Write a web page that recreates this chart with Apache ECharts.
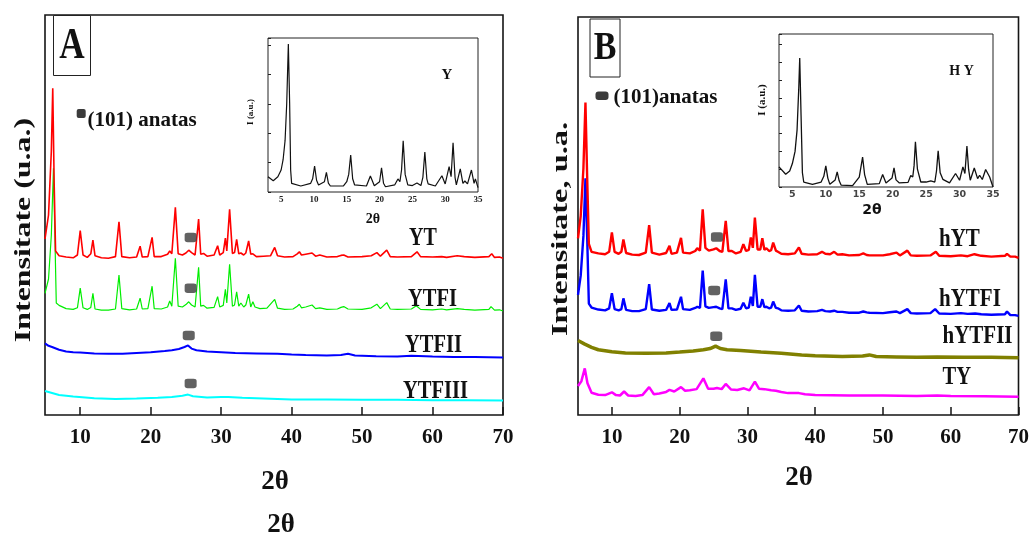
<!DOCTYPE html>
<html><head><meta charset="utf-8">
<script src="https://cdn.jsdelivr.net/npm/echarts@6/dist/echarts.min.js"></script>
<style>html,body{margin:0;padding:0;background:#fff}#c{width:1032px;height:536px}</style>
</head><body><div id="c"></div>
<script>
// ---------- tick labels ----------
const xTicksMain = [10, 20, 30, 40, 50, 60, 70];
const xTicksInset = [5, 10, 15, 20, 25, 30, 35];

// ---------- Panel A traces: [2θ, stacked intensity] ----------
const seriesYT = [[5,44],[5.5,50],[5.9,66],[6.1,81.7],[6.3,58],[6.5,41],[7,39.8],[8,39.5],[9,39.3],[9.6,40],[10,46.1],[10.4,40],[11,39.4],[11.5,40.3],[11.8,43.7],[12.1,39.8],[13,39.3],[14,39.2],[15,39.6],[15.5,48.3],[15.9,39.6],[17,39.3],[18,39.5],[18.5,42.2],[18.8,39.5],[19.6,39.6],[20.2,44.4],[20.5,39.6],[21.5,39.6],[22.4,40.2],[22.7,41],[23,40.3],[23.5,51.9],[23.9,40.3],[24.5,40],[25,40.5],[25.4,41.2],[25.8,40.6],[26.3,40],[26.8,49],[27.1,40.2],[27.5,40.4],[28,39.7],[29,40],[29.5,42.3],[29.8,40],[30.3,40.6],[30.6,44.2],[30.8,41],[31.2,51.4],[31.6,40.4],[31.9,40.6],[32.2,43.9],[32.5,40.3],[32.8,40.5],[33.2,40],[33.5,40.5],[33.9,43.5],[34.2,40.2],[34.5,40.3],[35,39.6],[36,39.7],[37,39.8],[37.6,41.9],[38,39.8],[39,39.5],[40.2,39.6],[40.8,40.3],[41.1,40.8],[41.4,40],[42,40.2],[42.9,40.5],[43.4,39.7],[44,40],[45,39.5],[46.5,39.6],[47,39.9],[47.4,40],[48,39.5],[50,39.6],[51.3,39.8],[52.1,40.6],[52.6,39.7],[53.5,41.2],[54,39.6],[55,39.5],[57,39.6],[57.8,40.8],[58.3,39.6],[60,39.5],[61.3,39.6],[62,39.4],[63.5,39.8],[64.5,39.6],[66,39.4],[68,39.6],[68.4,40.3],[68.8,39.4],[69.5,39.5],[70,39.2]];
const seriesYTFI = [[5,30.4],[5.5,34],[5.9,45],[6.2,61.7],[6.4,45],[6.6,28],[7,27.4],[8,26.6],[9,26.4],[9.6,26.8],[10,31.7],[10.4,26.8],[11,26.4],[11.5,26.9],[11.8,30.4],[12.1,26.5],[13,26.2],[14,26.2],[15,26.5],[15.5,35],[15.9,26.6],[17,26.3],[18,26.5],[18.5,29.2],[18.8,26.5],[19.6,26.6],[20.2,32.2],[20.5,26.6],[21.5,26.5],[22.4,27],[22.7,28.5],[23,27.2],[23.5,39.2],[23.9,27.2],[24.5,27],[25,27.6],[25.4,28.3],[25.8,27.5],[26.3,27],[26.8,36.9],[27.1,27.2],[27.5,27.4],[28,26.7],[29,26.9],[29.5,29.6],[29.8,27],[30.3,27.4],[30.6,31.4],[30.8,28],[31.2,37.7],[31.6,27.2],[31.9,27.5],[32.2,30.8],[32.5,27.2],[32.8,28],[33.2,27],[33.5,27.5],[33.9,30.2],[34.2,27],[34.5,28.3],[34.8,27],[35.5,26.6],[36.5,26.7],[37.6,28.9],[38,26.7],[39,26.4],[40.2,26.5],[40.8,27.2],[41.1,27.7],[41.4,26.8],[42,27],[42.9,27.5],[43.4,26.6],[44,26.8],[45,26.4],[46.5,26.5],[47,26.9],[47.4,27.1],[48,26.5],[50,26.4],[51.3,26.8],[52.1,27.7],[52.6,26.6],[53.5,28.1],[54,26.5],[55,26.4],[57,26.5],[57.7,27.3],[58.3,26.4],[60,26.3],[61.3,26.5],[62,26.3],[63.5,26.6],[64.5,26.4],[66,26.2],[68,26.4],[68.3,27.1],[68.8,26.2],[69.5,26.3],[70,26]];
const seriesYTFII = [[5,17.9],[5.5,17.3],[6,17],[7,16.3],[8,15.9],[9,15.7],[10,15.6],[12,15.4],[14,15.3],[16,15.3],[18,15.5],[20,15.7],[22,16],[23,16.2],[24,16.5],[24.8,17],[25.3,17.4],[25.8,16.6],[26.5,16.2],[28,15.9],[30,15.7],[32,15.5],[35,15.4],[38,15.3],[40,15.1],[42,15],[45,14.9],[47,15],[48,15.3],[49,14.9],[52,14.7],[55,14.6],[57,14.8],[60,14.6],[63,14.5],[66,14.5],[70,14.4]];
const seriesYTFIII = [[5,6],[6,5.5],[7,5],[9,4.6],[12,4.2],[15,4],[18,4.1],[21,4.3],[23,4.5],[24.5,4.8],[25.3,5.1],[26,4.7],[28,4.4],[30,4.5],[31,4.5],[33,4.3],[35,4.2],[40,3.9],[45,3.9],[50,3.8],[55,3.8],[60,3.7],[65,3.7],[70,3.6]];

// ---------- Panel B traces ----------
const seriesHYT = [[5,44.4],[5.4,50],[5.8,62],[6.1,78.5],[6.35,60],[6.6,43],[7,41],[8,40.6],[9,40.4],[9.6,41],[10,45.9],[10.4,41],[11,40.5],[11.4,41],[11.7,44.1],[12.1,40.7],[13,40.3],[14,40.2],[15,40.8],[15.5,47.7],[15.9,40.8],[17,40.3],[18,40.7],[18.5,42.5],[18.8,40.5],[19.6,40.8],[20.2,44.5],[20.5,40.8],[21.5,40.6],[22.3,41.2],[22.6,41.9],[23,41.3],[23.4,51.7],[23.8,42],[24.3,41.3],[25,41.6],[25.4,41.9],[25.9,41.2],[26.3,41],[26.8,48.8],[27.2,41.2],[27.7,41.2],[28.3,40.6],[29,41],[29.4,42.9],[29.8,41.2],[30.2,41.5],[30.5,44.6],[30.8,42],[31.1,49.6],[31.5,41.6],[31.9,41.6],[32.2,44.4],[32.5,41.5],[32.8,41.9],[33.2,41.2],[33.5,41.4],[33.8,43.3],[34.2,41.3],[34.5,41],[35,40.5],[36,40.4],[37,40.6],[37.6,42.1],[38,40.5],[39,40.3],[40.3,40.4],[41,41],[41.5,40.5],[42.2,40.4],[42.8,41],[43.3,40.3],[44,40.4],[45,40.1],[46.5,40.2],[47.1,40.6],[47.6,40.2],[48,40.1],[50,40.1],[51,40.4],[52,40.8],[52.5,40.1],[53.6,41.3],[54.1,40.1],[55,40],[57,40.1],[57.8,41],[58.3,40],[60,39.9],[61.5,40.1],[62.5,39.9],[63.5,40.4],[64.5,40],[66,39.8],[68,40],[68.3,40.5],[68.8,39.8],[69.5,39.8],[70,39.5]];
const seriesHYTFI = [[5,30.2],[5.4,35],[5.8,45],[6.1,59.5],[6.35,45],[6.6,28],[7,27],[8,26.5],[9,26.3],[9.6,26.8],[10,30.6],[10.4,26.6],[11,26.3],[11.4,26.6],[11.7,29.3],[12.1,26.4],[13,26.1],[14,26.1],[15,26.6],[15.5,32.9],[15.9,26.5],[17,26.2],[18,26.4],[18.5,28.1],[18.8,26.4],[19.6,26.5],[20.2,29.7],[20.5,26.6],[21.5,26.4],[22.3,26.9],[22.6,27.2],[23,26.9],[23.4,36.3],[23.8,27.3],[24.3,26.9],[25,27.1],[25.4,27.2],[25.9,26.8],[26.3,26.6],[26.8,34.1],[27.2,26.8],[27.7,26.8],[28.3,26.4],[29,26.7],[29.4,28.2],[29.8,26.8],[30.2,27],[30.5,29.7],[30.8,27.4],[31.1,35.2],[31.5,27.2],[31.9,27.2],[32.2,29.1],[32.5,27.1],[32.8,27.2],[33.2,26.8],[33.5,27],[33.8,28.5],[34.2,26.9],[34.5,26.8],[35,26.3],[36,26.2],[37,26.3],[37.6,27.5],[38,26.2],[39,26],[40.3,26.1],[41,26.4],[41.5,26.1],[42.2,26],[42.8,26.2],[43.3,25.9],[44,25.9],[45,25.7],[46.5,25.7],[47.1,26],[47.6,25.8],[48,25.7],[50,25.6],[51,25.8],[52,26],[52.5,25.6],[53.6,26.6],[54.1,25.6],[55,25.5],[57,25.6],[57.7,26.6],[58.3,25.5],[60,25.4],[61.5,25.6],[62.5,25.4],[63.6,25.5],[64.5,25.3],[66,25.2],[68,25.3],[68.3,26],[68.8,25.1],[69.5,25.1],[70,24.9]];
const seriesHYTFII = [[5,18.7],[6,17.8],[7,17],[8,16.4],[10,15.9],[12,15.6],[15,15.5],[18,15.6],[20,15.8],[22,16.1],[23.5,16.4],[24.5,16.7],[25.3,17.3],[26,16.7],[27,16.4],[29,16.2],[32,15.8],[35,15.5],[38,15.1],[40,14.9],[44,14.7],[47,14.8],[48,15.1],[49,14.7],[52,14.6],[55,14.5],[58,14.6],[62,14.5],[66,14.5],[70,14.4]];
const seriesTY = [[5,7.3],[5.5,8.5],[6,11.7],[6.4,8],[7,5.6],[8,5.1],[9,5],[10,5.7],[10.6,5],[11.2,4.9],[11.8,5.9],[12.4,4.9],[13.5,4.8],[14.5,5],[15.5,7],[16.2,5.2],[17,5.4],[18,5.8],[18.5,6.3],[19.2,5.9],[20.2,7],[20.8,6.1],[21.5,6.2],[22.5,6.5],[23.5,9.2],[24.2,6.6],[25,6.6],[25.5,6.8],[26.2,6.5],[26.8,7.8],[27.6,6.4],[28.5,6.3],[29.5,6.7],[30.3,6.2],[31.1,8.4],[31.7,6.6],[32.5,6.5],[33.5,6.2],[34.2,6.1],[35,5.8],[36,5.5],[37.6,5.5],[38.5,5.2],[40,5],[45,4.9],[50,4.9],[55,4.8],[58,4.9],[60,4.8],[65,4.7],[70,4.6]];

// ---------- insets ----------
const insetY = [[3,10.4],[3.8,7.7],[4.5,10.4],[5,15],[5.3,22],[5.6,35],[5.85,60],[6.1,100.9],[6.3,60],[6.45,15],[6.6,5.9],[8,4.1],[9.5,5.9],[9.8,9],[10.1,17.7],[10.4,8],[10.7,4.8],[11.6,7],[11.9,13.4],[12.2,6],[12.5,4.1],[14.5,4.1],[15,7],[15.3,12],[15.6,25.2],[15.9,9],[16.2,4.8],[18,4.1],[18.6,10.9],[19.2,4.3],[20,7],[20.3,16.4],[20.6,6],[20.9,3.6],[22.3,4.8],[22.8,8.9],[23.1,7],[23.35,15],[23.6,35],[23.9,12],[24.3,4.8],[25,4.4],[25.7,6.1],[26.3,4.4],[26.6,10],[26.9,27.3],[27.2,9],[27.4,5.5],[27.7,6.8],[28.5,4.1],[29.5,11.1],[30,5.5],[30.6,17.3],[30.9,10.4],[31.2,33.6],[31.5,10],[31.7,4.8],[32.3,15.7],[32.7,5.9],[33,7.5],[33.4,5.5],[34,15],[34.4,5.9],[34.6,8.9],[35,3]];
const insetHY = [[3,11.3],[4,7.2],[4.6,9],[5,13.2],[5.4,20],[5.7,32],[5.95,55],[6.1,72.5],[6.3,40],[6.5,8],[6.7,2.8],[8,1.5],[9.3,2.8],[9.7,6],[10,11.9],[10.3,5],[10.6,1.5],[11.4,4],[11.7,8.5],[12,3.5],[12.3,1],[14,0.8],[15,5.6],[15.5,16.8],[15.8,7],[16.2,1.5],[18,1.9],[18.5,7],[19,2.3],[19.9,5],[20.2,10.7],[20.5,4],[21,2.3],[22.3,2.6],[22.7,6.4],[23,5.6],[23.2,12],[23.4,25.4],[23.7,10],[24.2,2.8],[25,2.8],[25.7,3.4],[26.3,2.8],[26.55,9],[26.8,20.3],[27.1,8],[27.5,4.3],[28.5,2.3],[29.4,7.6],[30,3.8],[30.5,11.3],[30.8,7.6],[31.1,23],[31.35,10],[31.6,3.8],[32.2,10.7],[32.7,4.7],[33,6.6],[33.4,4.2],[33.9,9.8],[34.5,5.6],[35,0]];

// ---------- (101) anatase markers ----------
const anatasA = [[25.67,44.4],[25.67,31.7],[25.4,19.9],[25.67,7.9]];
const anatasB = [[25.5,44.7],[25.1,31.3],[25.4,19.8]];

const SERIF = '"Liberation Serif", "Times New Roman", serif';
const FRAME = '#151515';

function mainX(grid) {
  return {
    gridIndex: grid, type: 'value', min: 5, max: 70,
    axisLine: { show: false }, splitLine: { show: false },
    axisTick: { show: true, inside: true, length: 8, customValues: xTicksMain, lineStyle: { color: FRAME, width: 1.5 } },
    axisLabel: { customValues: xTicksMain, fontFamily: SERIF, fontWeight: 'bold', fontSize: 21, color: '#111', margin: 12 }
  };
}
function mainY(grid) {
  return { gridIndex: grid, type: 'value', min: 0, max: 100, axisLine: { show: false }, axisTick: { show: false }, axisLabel: { show: false }, splitLine: { show: false } };
}
function insetX(grid, font, size, color) {
  return {
    gridIndex: grid, type: 'value', min: 3, max: 35,
    axisLine: { show: false }, splitLine: { show: false }, axisTick: { show: false },
    axisLabel: { customValues: xTicksInset, fontFamily: font, fontWeight: 'bold', fontSize: size, color: color, margin: 3 }
  };
}
function insetYAxis(grid, max, interval) {
  return {
    gridIndex: grid, type: 'value', min: 0, max: max, interval: interval,
    axisLine: { show: false }, splitLine: { show: false }, axisLabel: { show: false },
    axisTick: { show: true, inside: true, length: 3, lineStyle: { color: '#222', width: 1 } }
  };
}
function line(name, data, xi, color, width) {
  return { name: name, type: 'line', xAxisIndex: xi, yAxisIndex: xi, data: data, showSymbol: false, symbol: 'none',
    lineStyle: { color: color, width: width }, itemStyle: { color: color }, animation: false, z: 3 };
}
function marks(data, xi) {
  return { type: 'scatter', xAxisIndex: xi, yAxisIndex: xi, data: data, symbol: 'roundRect', symbolSize: [12, 9.5],
    itemStyle: { color: '#3b3b3b' }, z: 6, animation: false };
}
function txt(text, x, y, size, opts) {
  opts = opts || {};
  return {
    type: 'text', x: x, y: y, z: 50,
    rotation: opts.rotation || 0, scaleX: opts.scaleX || 1, scaleY: opts.scaleY || 1,
    style: {
      text: text, fill: opts.color || '#111',
      font: (opts.weight || 'bold') + ' ' + size + 'px ' + (opts.family || SERIF),
      textAlign: opts.align || 'center', textVerticalAlign: 'middle',
      align: opts.align || 'center', verticalAlign: 'middle'
    }
  };
}

const chart = echarts.init(document.getElementById('c'), null, { renderer: 'canvas' });
chart.setOption({
  animation: false,
  backgroundColor: '#fff',
  grid: [
    { left: 45, top: 15, width: 458, height: 400, show: true, borderColor: FRAME, borderWidth: 1.6, backgroundColor: 'transparent' },
    { left: 268, top: 38, width: 210, height: 154, show: true, borderColor: '#222', borderWidth: 1, backgroundColor: '#fff' },
    { left: 578, top: 17, width: 442, height: 398, show: true, borderColor: FRAME, borderWidth: 1.6, backgroundColor: 'transparent' },
    { left: 779, top: 34, width: 214, height: 153, show: true, borderColor: '#222', borderWidth: 1, backgroundColor: '#fff' }
  ],
  xAxis: [
    mainX(0),
    insetX(1, SERIF, 9, '#222'),
    mainX(2),
    insetX(3, '"DejaVu Sans", sans-serif', 9.5, '#444')
  ],
  yAxis: [
    mainY(0),
    insetYAxis(1, 105, 20),
    mainY(2),
    insetYAxis(3, 86, 10)
  ],
  series: [
    line('YTFIII', seriesYTFIII, 0, '#00ffff', 2),
    line('YTFII', seriesYTFII, 0, '#0000ff', 2),
    line('YTFI', seriesYTFI, 0, '#00ee00', 1.2),
    line('YT', seriesYT, 0, '#ff0000', 1.6),
    marks(anatasA, 0),
    line('Y', insetY, 1, '#111', 1.2),
    line('TY', seriesTY, 2, '#ff00ff', 2.5),
    line('hYTFII', seriesHYTFII, 2, '#808000', 3.5),
    line('hYTFI', seriesHYTFI, 2, '#0000ff', 2.4),
    line('hYT', seriesHYT, 2, '#ff0000', 2.4),
    marks(anatasB, 2),
    line('HY', insetHY, 3, '#111', 1.3)
  ],
  graphic: [
    // panel A
    { type: 'rect', z: 40, shape: { x: 53.5, y: 15.5, width: 37, height: 60 }, style: { fill: '#fff', stroke: '#222', lineWidth: 1 } },
    txt('A', 72, 47, 44, { scaleX: 0.8 }),
    { type: 'rect', z: 40, shape: { x: 76.7, y: 109, width: 9, height: 9, r: 2 }, style: { fill: '#3b3b3b' } },
    txt('(101) anatas', 87.5, 121, 21, { align: 'left' }),
    txt('Intensitate (u.a.)', 24, 230, 24, { rotation: Math.PI / 2, scaleX: 1.33 }),
    txt('YT', 409, 239, 25, { align: 'left', scaleX: 0.8 }),
    txt('YTFI', 408, 300, 25, { align: 'left', scaleX: 0.82 }),
    txt('YTFII', 405, 346, 25, { align: 'left', scaleX: 0.82 }),
    txt('YTFIII', 403, 392, 25, { align: 'left', scaleX: 0.82 }),
    txt('2θ', 275, 482, 27),
    txt('2θ', 281, 525, 27),
    txt('Y', 447, 75, 15),
    txt('I (a.u.)', 251, 112, 9, { rotation: Math.PI / 2 }),
    txt('2θ', 373, 219, 14),
    // panel B
    { type: 'rect', z: 40, shape: { x: 590, y: 19, width: 30, height: 58 }, style: { fill: '#fff', stroke: '#222', lineWidth: 1 } },
    txt('B', 605, 48.5, 40, { scaleX: 0.85 }),
    { type: 'rect', z: 40, shape: { x: 595.5, y: 91.5, width: 13, height: 8.5, r: 3 }, style: { fill: '#3b3b3b' } },
    txt('(101)anatas', 613.5, 97.5, 21, { align: 'left' }),
    txt('Intensitate, u.a.', 561, 229, 24, { rotation: Math.PI / 2, scaleX: 1.35 }),
    txt('hYT', 939, 240, 25, { align: 'left', scaleX: 0.84 }),
    txt('hYTFI', 939, 300, 25, { align: 'left', scaleX: 0.84 }),
    txt('hYTFII', 942.5, 337, 25, { align: 'left', scaleX: 0.84 }),
    txt('TY', 942.5, 378, 25, { align: 'left', scaleX: 0.82 }),
    txt('2θ', 799, 478, 27),
    txt('H Y', 961.5, 71, 14),
    txt('I (a.u.)', 762, 100, 11, { rotation: Math.PI / 2 }),
    txt('2θ', 872, 210, 14, { family: '"DejaVu Sans", sans-serif' })
  ]
});
</script>
</body></html>
